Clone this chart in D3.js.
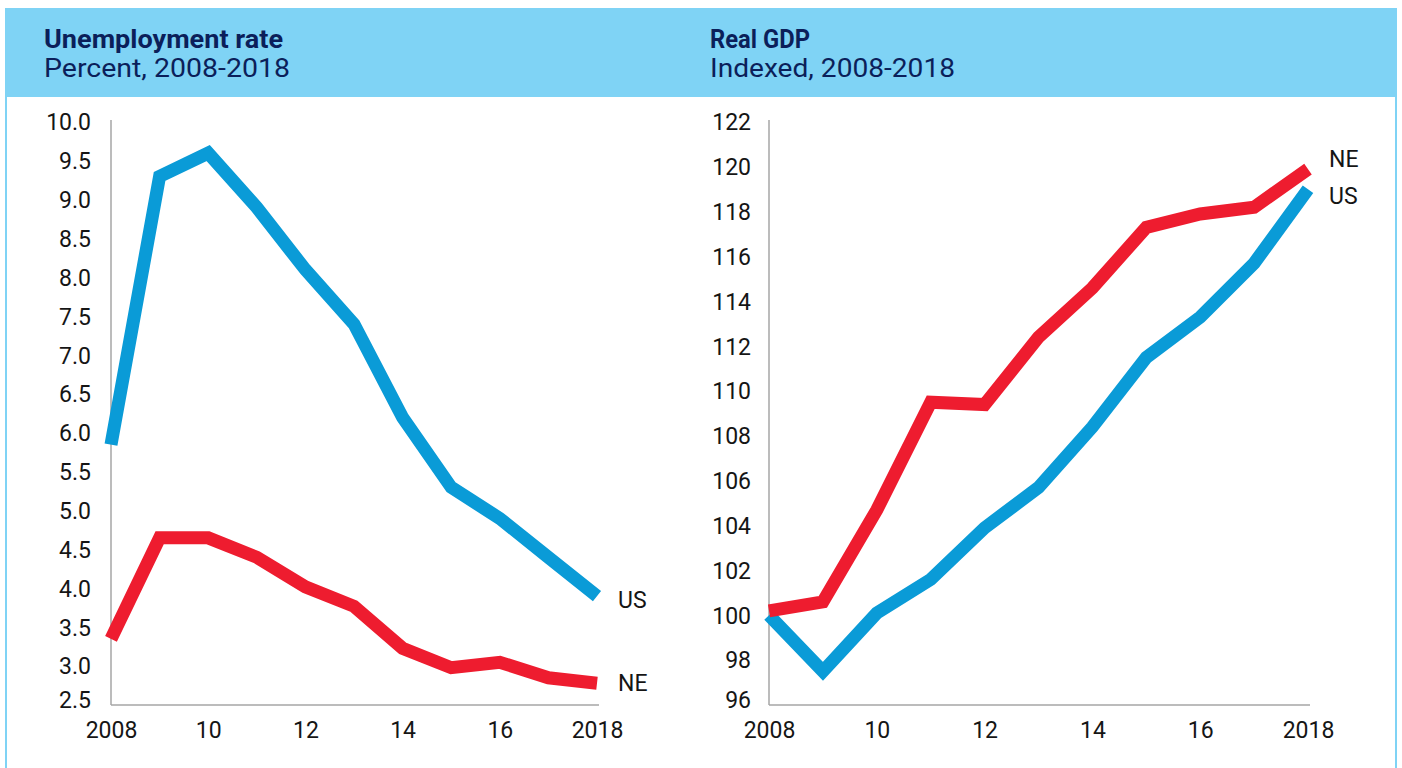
<!DOCTYPE html>
<html>
<head>
<meta charset="utf-8">
<script src="https://cdn.jsdelivr.net/npm/d3@7"></script>
<style>
  html, body { margin: 0; padding: 0; background: #fff; }
  svg { display: block; font-family: Roboto, "Liberation Sans", sans-serif; }
</style>
</head>
<body>
<svg id="chart" width="1402" height="768"></svg>
<script>
// data
var years = [2008, 2009, 2010, 2011, 2012, 2013, 2014, 2015, 2016, 2017, 2018];
var xTicks = [2008, 2010, 2012, 2014, 2016, 2018];
var xTickLabels = ["2008", "10", "12", "14", "16", "2018"];

var unempUS = [5.85, 9.3, 9.6, 8.9, 8.1, 7.4, 6.2, 5.3, 4.9, 4.4, 3.9];
var unempNE = [3.35, 4.65, 4.65, 4.4, 4.02, 3.77, 3.23, 2.98, 3.05, 2.85, 2.78];
var unempTicks = [2.5, 3, 3.5, 4, 4.5, 5, 5.5, 6, 6.5, 7, 7.5, 8, 8.5, 9, 9.5, 10];

var gdpUS = [100, 97.5, 100.1, 101.6, 103.9, 105.7, 108.4, 111.5, 113.3, 115.7, 119.0];
var gdpNE = [100.2, 100.6, 104.7, 109.5, 109.4, 112.4, 114.6, 117.3, 117.9, 118.2, 119.9];
var gdpTicks = [96, 98, 100, 102, 104, 106, 108, 110, 112, 114, 116, 118, 120, 122];

var blue = "#0a9bd7", red = "#ee1c2f", navy = "#0b1f5a", band = "#7fd3f5";

var svg = d3.select("#chart");

// frame: header band and side rules
svg.append("rect").attr("x", 5).attr("y", 8).attr("width", 1392).attr("height", 89).attr("fill", band);
svg.append("line").attr("x1", 6).attr("x2", 6).attr("y1", 97).attr("y2", 768).attr("stroke", band).attr("stroke-width", 2);
svg.append("line").attr("x1", 1396).attr("x2", 1396).attr("y1", 97).attr("y2", 768).attr("stroke", band).attr("stroke-width", 2);

function drawPanel(cfg) {
	var g = svg.append("g");

	g.append("text").attr("x", cfg.titleX).attr("y", 48)
		.attr("fill", navy).attr("font-size", 26).attr("font-weight", 700)
		.attr("textLength", cfg.titleW).attr("lengthAdjust", "spacingAndGlyphs")
		.text(cfg.title);
	g.append("text").attr("x", cfg.titleX).attr("y", 77)
		.attr("fill", navy).attr("font-size", 26)
		.attr("textLength", cfg.subW).attr("lengthAdjust", "spacingAndGlyphs")
		.text(cfg.sub);

	var x = d3.scaleLinear().domain([2008, 2018]).range([cfg.x0, cfg.x1]);
	var y = d3.scaleLinear().domain(cfg.yDomain).range([705, 122]);

	var yAxis = g.append("g").attr("transform", "translate(" + cfg.x0 + ",0)")
		.call(d3.axisLeft(y).tickValues(cfg.yTicks).tickFormat(cfg.yFormat).tickSize(0).tickPadding(cfg.yPad).tickSizeOuter(0));
	var xAxis = g.append("g").attr("transform", "translate(0,705)")
		.call(d3.axisBottom(x).tickValues(xTicks).tickFormat(function(d, i) { return xTickLabels[i]; }).tickSize(0).tickPadding(17).tickSizeOuter(0));

	[yAxis, xAxis].forEach(function(a) {
		a.select(".domain").attr("stroke", "#a6a6a6").attr("stroke-width", 1.5);
		a.selectAll("text").attr("font-family", "Roboto, sans-serif").attr("font-size", 23).attr("fill", "#151515");
	});
	// bottom label sits a little above the baseline
	yAxis.selectAll(".tick text").attr("dy", function(d, i) { return i === 0 ? "0.12em" : "0.34em"; });
	xAxis.selectAll(".tick text").attr("dy", "0.71em");
	// extend x domain slightly past last year
	xAxis.select(".domain").attr("d", "M" + cfg.x0 + ",0H" + (cfg.x1 + 2));
	yAxis.select(".domain").attr("d", "M0,705V120");

	var line = d3.line().x(function(d, i) { return x(years[i]); }).y(function(d) { return y(d); });

	cfg.series.forEach(function(s) {
		g.append("path").datum(s.values)
			.attr("d", line)
			.attr("fill", "none")
			.attr("stroke", s.color)
			.attr("stroke-width", 13)
			.attr("stroke-linejoin", "miter")
			.attr("stroke-linecap", "butt");
	});

	cfg.series.forEach(function(s) {
		g.append("text")
			.attr("x", x(2018) + 21)
			.attr("y", y(s.values[s.values.length - 1]) + s.labelDy)
			.attr("dy", "0.35em")
			.attr("font-size", 23).attr("fill", "#151515")
			.text(s.name);
	});
}

drawPanel({
	title: "Unemployment rate", titleW: 239, sub: "Percent, 2008-2018", subW: 246, titleX: 44,
	x0: 111, x1: 597, yDomain: [2.5, 10], yTicks: unempTicks, yFormat: d3.format(".1f"), yPad: 20,
	series: [
		{name: "US", values: unempUS, color: blue, labelDy: 4},
		{name: "NE", values: unempNE, color: red, labelDy: 0}
	]
});

drawPanel({
	title: "Real GDP", titleW: 100, sub: "Indexed, 2008-2018", subW: 245, titleX: 710,
	x0: 769, x1: 1308, yDomain: [96, 122], yTicks: gdpTicks, yFormat: d3.format("d"), yPad: 18,
	series: [
		{name: "US", values: gdpUS, color: blue, labelDy: 7},
		{name: "NE", values: gdpNE, color: red, labelDy: -10}
	]
});
</script>
</body>
</html>
